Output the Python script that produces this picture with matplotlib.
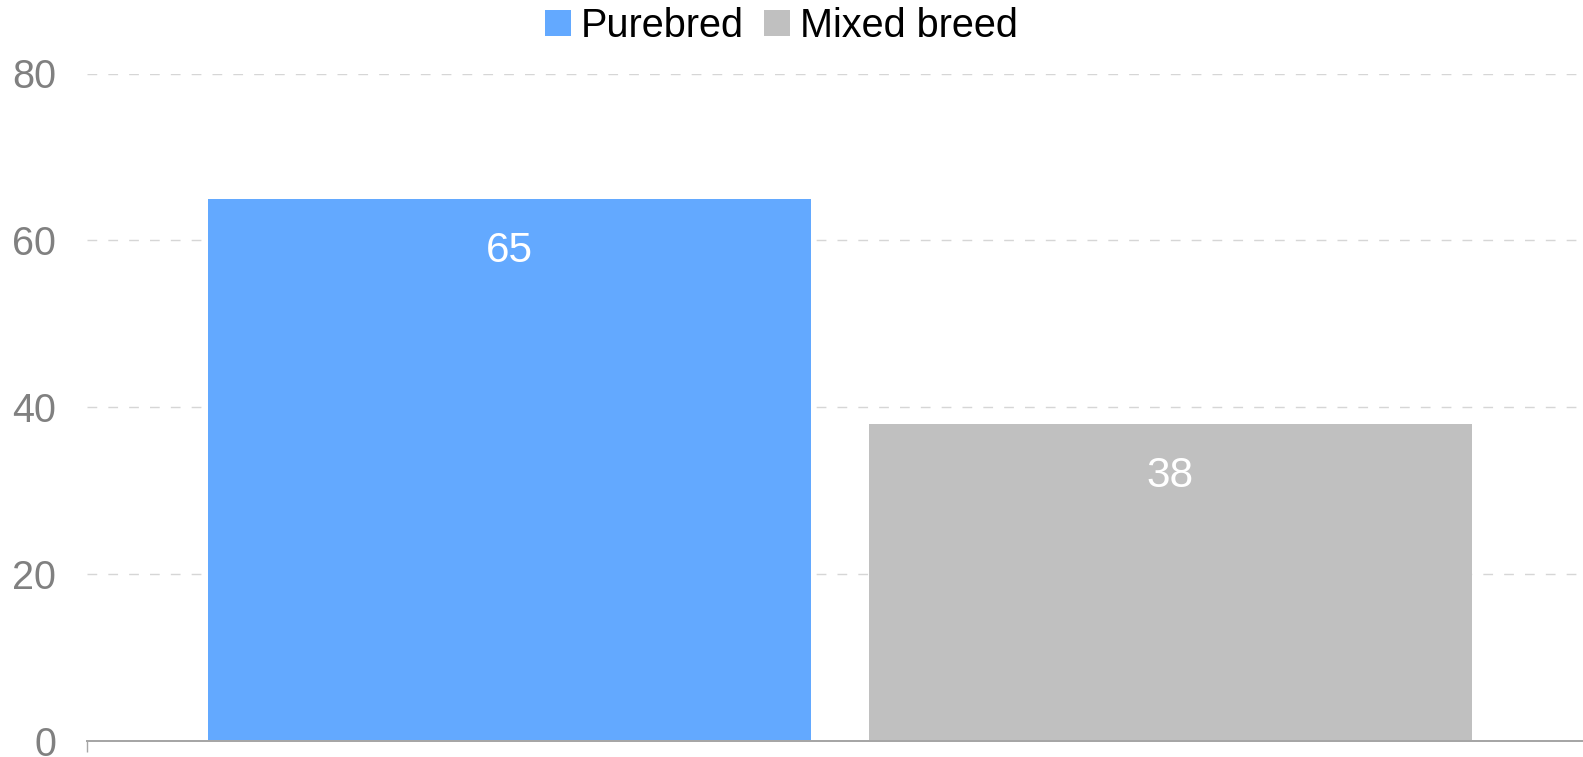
import matplotlib
matplotlib.use("Agg")
import matplotlib.pyplot as plt
from matplotlib.patches import Patch
import numpy as np

plt.rcParams['font.family'] = ['Liberation Sans', 'DejaVu Sans']

# Data
series = ["Purebred", "Mixed breed"]
values = [65, 38]
colors = ["#63a9ff", "#c0c0c0"]
y_ticks = [0, 20, 40, 60, 80]

W, H, DPI = 1583, 757, 100
fig = plt.figure(figsize=(W / DPI, H / DPI), dpi=DPI)
ax = fig.add_axes([87 / W, 16 / H, (W - 87) / W, (741 - 73.5) / H])

x = np.arange(len(series))
bar_w = 0.912
ax.bar(x, values, width=bar_w, color=colors, zorder=3)

for xi, v in zip(x, values):
    ax.annotate(str(v), xy=(xi, v), xytext=(0, -45.6), textcoords="offset points",
                ha="center", va="baseline", color="white", fontsize=30.5, zorder=4)

xmin, xmax = -0.639, 1.624
ax.set_xlim(xmin, xmax)
ax.set_ylim(0, 80)

# y axis: labels only, dashed horizontal grid
ax.set_yticks(y_ticks)
ax.set_yticklabels([str(t) for t in y_ticks])
ax.tick_params(axis="y", length=0, pad=22.3, labelsize=28.5, labelcolor="#808080")
for t in y_ticks[1:]:
    ax.axhline(t, color="#d6d6d6", lw=1.0, ls=(0, (7, 8)), zorder=1)

# x axis: baseline with a boundary tick at the left edge
ax.set_xticks([xmin])
ax.set_xticklabels([""])
ax.tick_params(axis="x", length=7.9, width=1.0, color="#a6a6a6", direction="out")

for side in ["top", "right", "left"]:
    ax.spines[side].set_visible(False)
ax.spines["bottom"].set_color("#a6a6a6")
ax.spines["bottom"].set_linewidth(1.44)
ax.spines["bottom"].set_zorder(5)

handles = [Patch(facecolor=c, edgecolor="none") for c in colors]
fig.legend(handles, series, loc="center", bbox_to_anchor=(781.5 / W, 1 - 26 / H),
           ncol=2, frameon=False, fontsize=28.5, handlelength=0.66, handleheight=0.66,
           handletextpad=0.25, columnspacing=0.5, borderpad=0, borderaxespad=0)

fig.savefig("out.png", dpi=DPI)
